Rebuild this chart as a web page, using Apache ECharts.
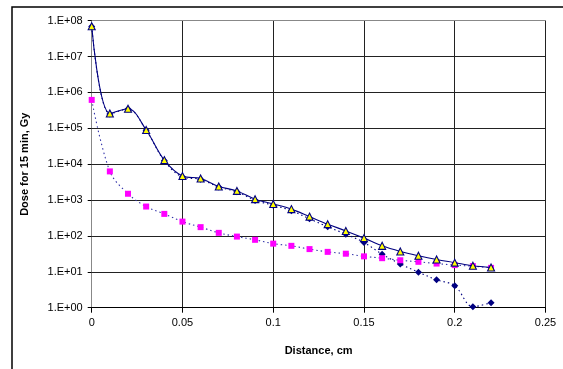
<!DOCTYPE html>
<html>
<head>
<meta charset="utf-8">
<script src="https://cdn.jsdelivr.net/npm/echarts@6/dist/echarts.min.js"></script>
<style>
html,body{margin:0;padding:0;background:#fff;}
#c{width:563px;height:369px;}
</style>
</head>
<body>
<div id="c"></div>
<script>
var distances = [0, 0.01, 0.02, 0.03, 0.04, 0.05, 0.06, 0.07, 0.08, 0.09, 0.10, 0.11, 0.12, 0.13, 0.14, 0.15, 0.16, 0.17, 0.18, 0.19, 0.20, 0.21, 0.22];
var totalDose = [7.0e7, 2.6e5, 3.5e5, 9.0e4, 1.3e4, 4.7e3, 4.0e3, 2.4e3, 1.8e3, 1.06e3, 780, 560, 346, 213, 138, 87, 53, 37, 28, 22, 18, 14.7, 13.2];
var squareDose = [6.2e5, 6.3e3, 1.5e3, 660, 412, 251, 176, 122, 96, 78, 61, 53, 43, 36, 32, 27, 24, 21, 19, 17, 15.4, 14.4, 12.9];
var diamondDose = [6.9e7, 2.5e5, 3.45e5, 8.9e4, 1.25e4, 4.4e3, 3.8e3, 2.3e3, 1.7e3, 980, 720, 505, 300, 180, 112, 66, 31, 16.6, 9.8, 6.0, 4.1, 1.07, 1.38];
var xTicks = ['0', '0.05', '0.1', '0.15', '0.2', '0.25'];
var yTicks = ['1.E+00', '1.E+01', '1.E+02', '1.E+03', '1.E+04', '1.E+05', '1.E+06', '1.E+07', '1.E+08'];

function pairs(ys) { return distances.map(function (x, i) { return [x, ys[i]]; }); }

var FONT = 'Liberation Sans, Arial, sans-serif';
var chart = echarts.init(document.getElementById('c'), null, {renderer: 'canvas'});
chart.setOption({
  animation: false,
  backgroundColor: '#fff',
  grid: {left: 91.7, right: 17.5, top: 20.7, bottom: 61.3, containLabel: false},
  graphic: [{
    type: 'rect', shape: {x: 12, y: 7, width: 620, height: 420},
    style: {fill: 'none', stroke: '#000', lineWidth: 1.5}, silent: true, z: -1
  }],
  xAxis: [{
    type: 'value', min: 0, max: 0.25, interval: 0.05,
    name: 'Distance, cm', nameLocation: 'middle', nameGap: 38,
    nameTextStyle: {fontFamily: FONT, fontSize: 11, fontWeight: 'bold', color: '#000'},
    axisLine: {show: true, onZero: false, lineStyle: {color: '#000', width: 1}},
    axisTick: {show: true, inside: false, length: 5, lineStyle: {color: '#000'}},
    axisLabel: {margin: 10, fontFamily: FONT, fontSize: 11, color: '#000',
      formatter: function (v) { return xTicks[Math.round(v / 0.05)]; }},
    splitLine: {show: true, lineStyle: {color: '#222', width: 1}}
  }, {
    type: 'value', position: 'top', min: 0, max: 0.25, interval: 0.05,
    axisLine: {show: true, lineStyle: {color: '#888', width: 1}},
    axisTick: {show: false}, axisLabel: {show: false}, splitLine: {show: false}
  }],
  yAxis: [{
    type: 'log', logBase: 10, min: 1, max: 1e8,
    name: 'Dose for 15 min, Gy', nameLocation: 'middle', nameGap: 61,
    nameTextStyle: {fontFamily: FONT, fontSize: 11, fontWeight: 'bold', color: '#000'},
    axisLine: {show: true, lineStyle: {color: '#000', width: 1}},
    axisTick: {show: true, inside: false, length: 4, lineStyle: {color: '#000'}},
    axisLabel: {margin: 9, fontFamily: FONT, fontSize: 11, color: '#000',
      formatter: function (v) { return yTicks[Math.round(Math.log10(v))]; }},
    splitLine: {show: true, lineStyle: {color: '#222', width: 1}},
    minorTick: {show: false}
  }, {
    type: 'log', logBase: 10, min: 1, max: 1e8, position: 'right',
    axisLine: {show: true, lineStyle: {color: '#888', width: 1}},
    axisTick: {show: false}, axisLabel: {show: false}, splitLine: {show: false}
  }],
  series: [{
    type: 'line', name: 'diamonds', data: pairs(diamondDose), smooth: 0.35,
    symbol: 'diamond', symbolSize: 7,
    itemStyle: {color: '#000080'},
    lineStyle: {color: '#000080', width: 1.1, type: [1.5, 3]}, z: 2
  }, {
    type: 'line', name: 'squares', data: pairs(squareDose), smooth: 0.35,
    symbol: 'rect', symbolSize: 6,
    itemStyle: {color: '#FF00FF'},
    lineStyle: {color: '#3333aa', width: 1.1, type: [1.5, 3]}, z: 3
  }, {
    type: 'line', name: 'total', data: pairs(totalDose), smooth: 0.35,
    symbol: 'triangle', symbolSize: 7,
    itemStyle: {color: '#FFFF00', borderColor: '#000080', borderWidth: 1.1},
    lineStyle: {color: '#000080', width: 1.1}, z: 4
  }]
});
</script>
</body>
</html>
